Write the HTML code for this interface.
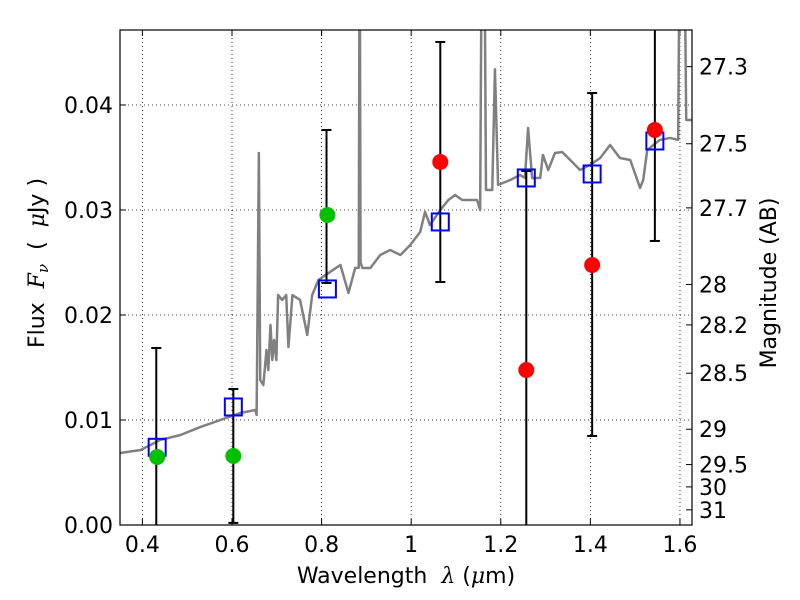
<!DOCTYPE html>
<html><head><meta charset="utf-8"><style>
html,body{margin:0;padding:0;background:#fff;}
svg{display:block;font-family:"DejaVu Sans","Liberation Sans",sans-serif;}
text{white-space:pre;}
</style></head><body>
<svg id="chart" width="800" height="600" viewBox="0 0 800 600" xmlns="http://www.w3.org/2000/svg"></svg>
<script>
const specWave=[0.351,0.396,0.440,0.485,0.529,0.574,0.619,0.652,0.655,0.660,0.663,0.670,0.677,0.681,0.686,0.690,0.694,0.699,0.703,0.712,0.721,0.726,0.735,0.752,0.768,0.779,0.793,0.819,0.842,0.860,0.875,0.883,0.885,0.887,0.891,0.909,0.931,0.953,0.976,0.998,1.020,1.031,1.042,1.065,1.083,1.098,1.114,1.147,1.154,1.158,1.163,1.167,1.181,1.187,1.194,1.221,1.243,1.254,1.261,1.270,1.288,1.294,1.306,1.321,1.337,1.355,1.377,1.399,1.422,1.444,1.466,1.489,1.511,1.518,1.527,1.555,1.578,1.596,1.600,1.609,1.614,1.627];
const specFlux=[.00686,.00714,.0081,.00857,.00933,.0100,.01067,.01095,.01048,.03543,.01381,.01333,.01667,.01476,.01905,.01571,.01762,.01571,.0219,.02143,.0219,.01695,.0219,.02143,.0181,.0219,.02333,.0241,.02476,.0221,.02448,.0245,.06,.0250,.02448,.02448,.02571,.02619,.02571,.02667,.0279,.02981,.02857,.03,.03095,.03143,.03095,.03095,.03,.06,.06,.0319,.0319,.0434,.03238,.03286,.03333,.03305,.03781,.03305,.03305,.03524,.03381,.03543,.03552,.03476,.03381,.03429,.03495,.03619,.03495,.03476,.0321,.03286,.03571,.03667,.03686,.03667,.06,.06,.03857,.03857];
const modelWave=[0.433,0.603,0.813,1.065,1.257,1.404,1.544];
const modelFlux=[.0074,.01124,.02248,.02886,.03305,.03343,.03657];
const greenWave=[0.433,0.603,0.813];
const greenFlux=[.00648,.00657,.02952];
const redWave=[1.065,1.257,1.404,1.544];
const redFlux=[.03457,.01476,.02476,.03762];
const errWave=[0.431,0.603,0.811,1.065,1.257,1.404,1.544];
const errLow=[-0.002,.0002,.02305,.02314,-0.005,.00848,.02705];
const errHigh=[.01686,.01295,.03762,.046,.03371,.04114,.06];
const xTicks=[0.4,0.6,0.8,1.0,1.2,1.4,1.6];
const xTickLabels=["0.4","0.6","0.8","1","1.2","1.4","1.6"];
const yTicks=[0,0.01,0.02,0.03,0.04];
const yTickLabels=["0.00","0.01","0.02","0.03","0.04"];
const magTicks=[27.3,27.5,27.7,28,28.2,28.5,29,29.5,30,31];
const magLabels=["27.3","27.5","27.7","28","28.2","28.5","29","29.5","30","31"];

const L=120,R=692,T=30,B=525,x0=0.35,x1=1.6269,y0=0,y1=0.04714;
const sx=v=>L+(v-x0)/(x1-x0)*(R-L);
const sy=v=>B-(v-y0)/(y1-y0)*(B-T);
const svg=document.getElementById('chart');
const NS='http://www.w3.org/2000/svg';
function mk(tag,attrs,parent){const e=document.createElementNS(NS,tag);for(const k in attrs)e.setAttribute(k,attrs[k]);(parent||svg).appendChild(e);return e;}

const defs=mk('defs',{});
const cp=mk('clipPath',{id:'clip'},defs);
mk('rect',{x:L,y:T,width:R-L,height:B-T},cp);

xTicks.forEach((v,i)=>{
  const g=mk('line',{x1:sx(v),x2:sx(v),y1:T,y2:B,stroke:'#000','stroke-width':0.8,'stroke-dasharray':'1,3'});
  
  
  const t=mk('line',{x1:sx(v),x2:sx(v),y1:B,y2:B-6,stroke:'#000'});
  
  
  mk('line',{x1:sx(v),x2:sx(v),y1:T,y2:T+6,stroke:'#000'});
  const lb=mk('text',{x:sx(v),y:B+27,'text-anchor':'middle','font-size':22});
  lb.textContent=xTickLabels[i];
  
  
});
yTicks.forEach((v,i)=>{
  const g=mk('line',{x1:L,x2:R,y1:sy(v),y2:sy(v),stroke:'#000','stroke-width':0.8,'stroke-dasharray':'1,3'});
  
  
  mk('line',{x1:L,x2:L+6,y1:sy(v),y2:sy(v),stroke:'#000'});
  const lb=mk('text',{x:L-7,y:sy(v)+8,'text-anchor':'end','font-size':22});
  lb.textContent=yTickLabels[i];
  
  
});
magTicks.forEach((m,i)=>{
  const f=Math.pow(10,(23.9-m)/2.5);
  const y=sy(f);
  mk('line',{x1:R,x2:R-6,y1:y,y2:y,stroke:'#000'});
  const lb=mk('text',{x:R+7,y:y+8,'font-size':22});
  lb.textContent=magLabels[i];
  
  
});

const plot=mk('g',{'clip-path':'url(#clip)'});


const sp=mk('polyline',{points:specWave.map((w,i)=>sx(w)+','+sy(specFlux[i])).join(' '),fill:'none',stroke:'#808080','stroke-width':2.5,'stroke-linejoin':'round'},plot);


errWave.forEach((w,i)=>{
  const g=mk('g',{},plot);
  
  
  const x=sx(w);
  mk('line',{x1:x,x2:x,y1:sy(errLow[i]),y2:sy(errHigh[i]),stroke:'#000','stroke-width':2},g);
  mk('line',{x1:x-5,x2:x+5,y1:sy(errLow[i]),y2:sy(errLow[i]),stroke:'#000','stroke-width':2},g);
  mk('line',{x1:x-5,x2:x+5,y1:sy(errHigh[i]),y2:sy(errHigh[i]),stroke:'#000','stroke-width':2},g);
});
modelWave.forEach((w,i)=>{
  const r=mk('rect',{x:sx(w)-8.5,y:sy(modelFlux[i])-8.5,width:17,height:17,fill:'none',stroke:'#0000ff','stroke-width':2},plot);
  
  
});
greenWave.forEach((w,i)=>{
  const c=mk('circle',{cx:sx(w),cy:sy(greenFlux[i]),r:8,fill:'#00c000'},plot);
  
  
});
redWave.forEach((w,i)=>{
  const c=mk('circle',{cx:sx(w),cy:sy(redFlux[i]),r:8,fill:'#ff0000'},plot);
  
  
});
const fr=mk('rect',{x:L,y:T,width:R-L,height:B-T,fill:'none',stroke:'#000','stroke-width':1.2});


const xt=mk('text',{x:406,y:583,'text-anchor':'middle','font-size':22});
xt.innerHTML='Wavelength  <tspan font-style="italic" font-family="DejaVu Serif, serif">λ</tspan> (<tspan font-style="italic" font-family="DejaVu Serif, serif">μ</tspan>m)';


const yt=mk('text',{x:0,y:0,'text-anchor':'middle','font-size':22,transform:'translate(44,263) rotate(-90)'});
yt.innerHTML='Flux  <tspan font-style="italic" font-family="DejaVu Serif, serif">F</tspan><tspan font-style="italic" font-size="15" dy="4" font-family="DejaVu Serif, serif">ν</tspan><tspan dy="-4">  (  </tspan><tspan font-style="italic" font-family="DejaVu Serif, serif">μ</tspan>Jy )';


const rt=mk('text',{x:0,y:0,'text-anchor':'middle','font-size':22,transform:'translate(776,283) rotate(-90)'});
rt.textContent='Magnitude (AB)';


</script>
</body></html>
